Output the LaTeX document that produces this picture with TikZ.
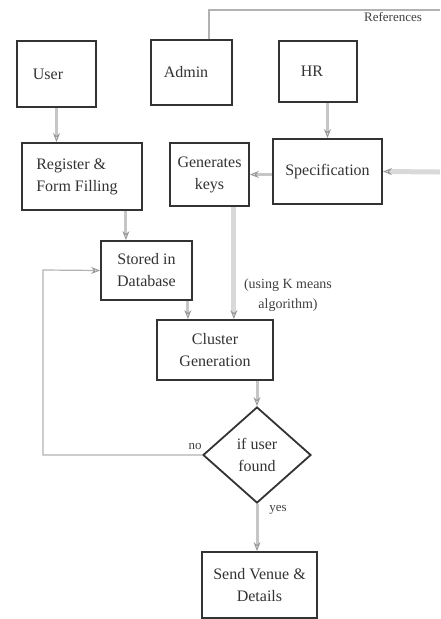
\documentclass[tikz,border=0pt]{standalone}
\usepackage{fontspec}
\setmainfont{Liberation Serif}
\usetikzlibrary{arrows.meta,shapes.geometric,calc}
\begin{document}
\begin{tikzpicture}[x=1pt,y=-1pt,
  box/.style={draw=black!80, line width=1.8pt, fill=white, inner sep=0pt, align=center,
    font=\fontsize{16}{22}\selectfont, text=black!80},
  conn/.style={draw=gray!45, line width=3pt,
    -{Stealth[open,length=9pt,width=7pt,line width=1pt,color=gray!80]}},
  thin/.style={draw=gray!60, line width=1.2pt},
  lbl/.style={font=\fontsize{14}{20}\selectfont, text=black!75, align=center},
  small/.style={font=\fontsize{13}{15}\selectfont, text=black!75}]
\useasboundingbox (0,0) rectangle (440,619);
\node[box, minimum width=79pt, minimum height=66pt] (User) at (56.5,74) {User\kern17pt};
\node[box, minimum width=81pt, minimum height=65pt] (Admin) at (191.5,72.5) {Admin\kern11pt};
\node[box, minimum width=78pt, minimum height=61pt] (HR) at (318,71.5) {HR\kern12pt};
\node[box, align=left, minimum width=120pt, minimum height=67pt] (Reg) at (82,176.5) {Register \&\\Form Filling\kern10pt};
\node[box, minimum width=79pt, minimum height=63pt] (Gen) at (209.5,174.5) {Generates\\keys};
\node[box, minimum width=109pt, minimum height=65pt] (Spec) at (327.5,171.5) {Specification};
\node[box, minimum width=91pt, minimum height=59pt] (Stored) at (146.5,270.5) {Stored in\\Database};
\node[box, minimum width=116pt, minimum height=60pt] (Cluster) at (215,350) {Cluster\\Generation};
\node[box, diamond, aspect=1.125, minimum width=108pt, minimum height=96pt] (Dia) at (257,455) {if user\\found};
\node[box, minimum width=115pt, minimum height=66pt] (Send) at (259.5,585) {Send Venue \&\\Details};
\node[lbl] (klbl) at (288,295) {(using K means\\algorithm)};
\node[small] (ref) at (393,17) {References};
\node[small] (no) at (195,446) {no};
\node[small] (yes) at (278,510) {yes};
\coordinate (rf) at (440,10);
\coordinate (rin) at (440,172);
\coordinate (lp) at (43,270);
% connectors
\draw[thin] ([xshift=17.5pt]Admin.north) |- (rf);
\draw[conn] (User.south) -- (User.south |- Reg.north);
\draw[conn] (Spec.north |- HR.south) -- (Spec.north);
\draw[conn, draw=gray!30, line width=5pt] (rin) -- (Spec.east);
\draw[conn] (Spec.west |- Gen.east) -- (Gen.east);
\draw[conn] ([xshift=-17pt]Reg.south east) -- ([xshift=-17pt]Reg.south east |- Stored.north);
\draw[conn] ([xshift=-5pt]Stored.south east) -- ([xshift=-5pt]Stored.south east |- Cluster.north);
\draw[conn, draw=gray!30, line width=5pt] ([xshift=-16pt]Gen.south east) -- ([xshift=-16pt]Gen.south east |- Cluster.north);
\draw[conn] (Cluster.south -| Dia.north) -- (Dia.north);
\draw[conn] (Dia.south) -- (Send.north -| Dia.south);
\draw[thin, -{Stealth[open,length=9pt,width=7pt,line width=1pt,color=gray!80]}] (Dia.west) -| (lp) -- (Stored.west);
\end{tikzpicture}
\end{document}
